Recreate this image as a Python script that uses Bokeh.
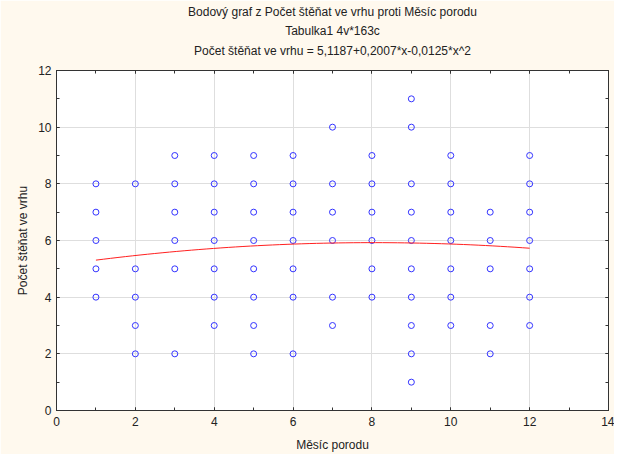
from bokeh.plotting import figure
from bokeh.models import Range1d, SingleIntervalTicker, LinearAxis, Title, ColumnDataSource, CustomJSTickFormatter
from bokeh.embed import file_html
from bokeh.resources import INLINE
import numpy as np

# ---- data ----
months = [1, 2, 3, 4, 5, 6, 7, 8, 9, 10, 11, 12]
litter_1 = [4, 5, 6, 7, 8]
litter_2 = [2, 3, 4, 5, 8]
litter_3 = [2, 5, 6, 7, 8, 9]
litter_4 = [3, 4, 5, 6, 7, 8, 9]
litter_5 = [2, 3, 4, 5, 6, 7, 8, 9]
litter_6 = [2, 4, 5, 6, 7, 8, 9]
litter_7 = [3, 4, 6, 7, 8, 10]
litter_8 = [4, 5, 6, 7, 8, 9]
litter_9 = [1, 2, 3, 4, 5, 6, 7, 8, 10, 11]
litter_10 = [3, 4, 5, 6, 7, 8, 9]
litter_11 = [2, 3, 5, 6, 7]
litter_12 = [3, 4, 5, 6, 7, 8, 9]
litters = [litter_1, litter_2, litter_3, litter_4, litter_5, litter_6,
           litter_7, litter_8, litter_9, litter_10, litter_11, litter_12]
# fitted quadratic from the title: y = b0 + b1*x + b2*x^2
fit_coef = [5.1187, 0.2007, -0.0125]
fit_x_range = [1, 12]

title_lines = ["Bodový graf z Počet štěňat ve vrhu proti Měsíc porodu",
               "Tabulka1 4v*163c",
               "Počet štěňat ve vrhu = 5,1187+0,2007*x-0,0125*x^2"]
x_label = "Měsíc porodu"
y_label = "Počet štěňat ve vrhu"

xs = [m for m, vals in zip(months, litters) for _ in vals]
ys = [v for vals in litters for v in vals]
fx = np.linspace(fit_x_range[0], fit_x_range[1], 60)
fy = fit_coef[0] + fit_coef[1] * fx + fit_coef[2] * fx ** 2

CREAM = "#FFF9EE"
FONT = "Liberation Sans"
DARK = "#222222"

p = figure(width=614, height=454, x_range=Range1d(0, 14), y_range=Range1d(0, 12),
           output_backend="svg", toolbar_location=None,
           background_fill_color="white", border_fill_color=CREAM,
           min_border_left=56, min_border_right=6, min_border_top=70, min_border_bottom=0,
           x_axis_label=x_label, y_axis_label=y_label)
p.outline_line_color = "#333333"

for ax in (p.xaxis[0], p.yaxis[0]):
    ax.ticker = SingleIntervalTicker(interval=2, num_minor_ticks=2)
    ax.major_tick_in = 3
    ax.major_tick_out = 0
    ax.minor_tick_in = 3
    ax.minor_tick_out = 0
    ax.axis_line_color = "#333333"
    ax.major_tick_line_color = "#333333"
    ax.minor_tick_line_color = "#333333"
    ax.major_label_text_font = FONT
    ax.major_label_text_font_size = "12px"
    ax.major_label_text_color = DARK
    ax.axis_label_text_font = FONT
    ax.axis_label_text_font_size = "12px"
    ax.axis_label_text_font_style = "normal"
    ax.axis_label_text_color = DARK
p.xaxis.major_label_standoff = 6
p.xaxis.axis_label_standoff = 9
p.yaxis.major_label_standoff = 5
p.yaxis.axis_label_standoff = 5

for loc in ("above", "right"):
    ax = LinearAxis(ticker=SingleIntervalTicker(interval=2, num_minor_ticks=2),
                    formatter=CustomJSTickFormatter(code="return ''"),
                    major_tick_in=3, major_tick_out=0, minor_tick_in=3, minor_tick_out=0,
                    major_label_standoff=0, axis_line_color="#333333",
                    major_tick_line_color="#333333", minor_tick_line_color="#333333")
    if loc == "above":
        ax.axis_label = " "
        ax.axis_label_text_font_size = "1px"
        ax.axis_label_standoff = 7
    p.add_layout(ax, loc)

p.grid.grid_line_color = "#DEDEDE"
p.grid.grid_line_width = 1

standoffs = [3, 3, 4]
for line, so in reversed(list(zip(title_lines, standoffs))):
    p.add_layout(Title(text=line, align="center", text_font=FONT, text_font_size="12px",
                       text_font_style="normal", text_color=DARK, standoff=so), "above")

src = ColumnDataSource(dict(x=xs, y=ys))
p.scatter("x", "y", source=src, marker="circle", size=6, fill_color=None,
          line_color="#3333FF", line_width=1)
p.line(fx, fy, line_color="#FF2020", line_width=1)

html = file_html(p, INLINE)
html = html.replace("<body>", '<body style="background-color:%s;">' % CREAM, 1)
open("out.html", "w").write(html)
